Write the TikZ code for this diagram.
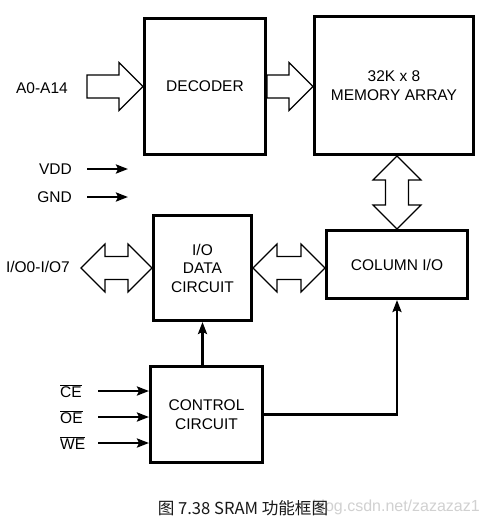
\documentclass[tikz,border=0pt]{standalone}
\usepackage{fontspec}
\setmainfont{Liberation Sans}
\newfontfamily\cjk{Noto Sans CJK SC}
\usetikzlibrary{arrows.meta,calc}

% block (bus) arrows, built from the two tip points
\newcommand{\busR}[2]{%
  \draw[bus] ($(#1)+(0,-11.5)$) -- ($(#2)+(-24,-11.5)$) -- ($(#2)+(-24,-24)$) -- (#2)
    -- ($(#2)+(-24,24)$) -- ($(#2)+(-24,11.5)$) -- ($(#1)+(0,11.5)$) -- cycle;}
\newcommand{\busLR}[2]{%
  \draw[bus] (#1) -- ($(#1)+(24,-24)$) -- ($(#1)+(24,-11.5)$) -- ($(#2)+(-24,-11.5)$)
    -- ($(#2)+(-24,-24)$) -- (#2) -- ($(#2)+(-24,24)$) -- ($(#2)+(-24,11.5)$)
    -- ($(#1)+(24,11.5)$) -- ($(#1)+(24,24)$) -- cycle;}
\newcommand{\busUD}[2]{%
  \draw[bus] (#1) -- ($(#1)+(24,24)$) -- ($(#1)+(11.5,24)$) -- ($(#2)+(11.5,-24)$)
    -- ($(#2)+(24,-24)$) -- (#2) -- ($(#2)+(-24,-24)$) -- ($(#2)+(-11.5,-24)$)
    -- ($(#1)+(-11.5,24)$) -- ($(#1)+(-24,24)$) -- cycle;}

\begin{document}
\begin{tikzpicture}[x=1pt,y=-1pt]
    \tikzstyle{block}=[draw, line width=3pt, align=center, inner sep=0pt,
        font=\fontsize{15.5}{18.5}\selectfont]
    \tikzstyle{lbl}=[inner sep=0pt, font=\fontsize{15.5}{18.5}\selectfont]
    \tikzstyle{bus}=[draw, fill=white, line width=1.2pt, line join=miter]
    \tikzstyle{sig}=[line width=2.4pt, -{Stealth[length=12pt,width=9pt,inset=2pt]}]

    \fill[white] (0,0) rectangle (489,523);
    \useasboundingbox (0,0) rectangle (489,523);

    \node[block, minimum width=121, minimum height=136] (dec) at (205,86.5) {DECODER};
    \node[block, minimum width=159, minimum height=138] (mem) at (394,85.5) {32K x 8\\MEMORY ARRAY};
    \node[block, minimum width=98, minimum height=105] (iod) at (202.5,268) {I/O\\DATA\\CIRCUIT};
    \node[block, minimum width=141, minimum height=68] (col) at (397,264.5) {COLUMN I/O};
    \node[block, minimum width=112, minimum height=96] (ctl) at (206.5,414.5) {CONTROL\\CIRCUIT};

    \node[lbl, anchor=east] (addr) at (68,88) {A0-A14};
    \node[lbl, anchor=east] (vdd) at (72,169) {VDD};
    \node[lbl, anchor=east] (gnd) at (72,197) {GND};
    \node[lbl, anchor=east] (io) at (70,267) {I/O0-I/O7};
    \node[lbl, anchor=west] (ce) at (60,391) {$\overline{\mbox{CE}}$};
    \node[lbl, anchor=west] (oe) at (60,417) {$\overline{\mbox{OE}}$};
    \node[lbl, anchor=west] (we) at (60,443) {$\overline{\mbox{WE}}$};

    \coordinate (addrin) at (87,86.5);
    \coordinate (iopin) at (81,268);
    \coordinate (vddend) at (128,169);
    \coordinate (gndend) at (128,197);

    \busR{addrin}{dec.west}
    \busR{dec.east}{dec.east -| mem.west}
    \busUD{col.north |- mem.south}{col.north}
    \busLR{iopin}{iod.west}
    \busLR{iod.east}{iod.east -| col.west}

    \draw[sig, shorten <=15pt] (vdd.east) -- (vddend);
    \draw[sig, shorten <=15pt] (gnd.east) -- (gndend);
    \draw[sig] (ce.center -| 98,0) -- (ce.center -| ctl.west);
    \draw[sig] (oe.center -| 98,0) -- (oe.center -| ctl.west);
    \draw[sig] (we.center -| 98,0) -- (we.center -| ctl.west);
    \draw[sig] (iod.south |- ctl.north) -- (iod.south);
    \draw[sig] (ctl.east) -| (col.south);

    \node[inner sep=0pt, anchor=east, text=black!18, font=\fontsize{16}{18}\selectfont]
        (wm) at (480,507) {blog.csdn.net/zazazaz1};
    \node[inner sep=0pt, text=black!90, font=\cjk\fontsize{16.6}{18}\selectfont]
        (cap) at (243,508) {图 7.38 SRAM 功能框图};
\end{tikzpicture}
\end{document}
